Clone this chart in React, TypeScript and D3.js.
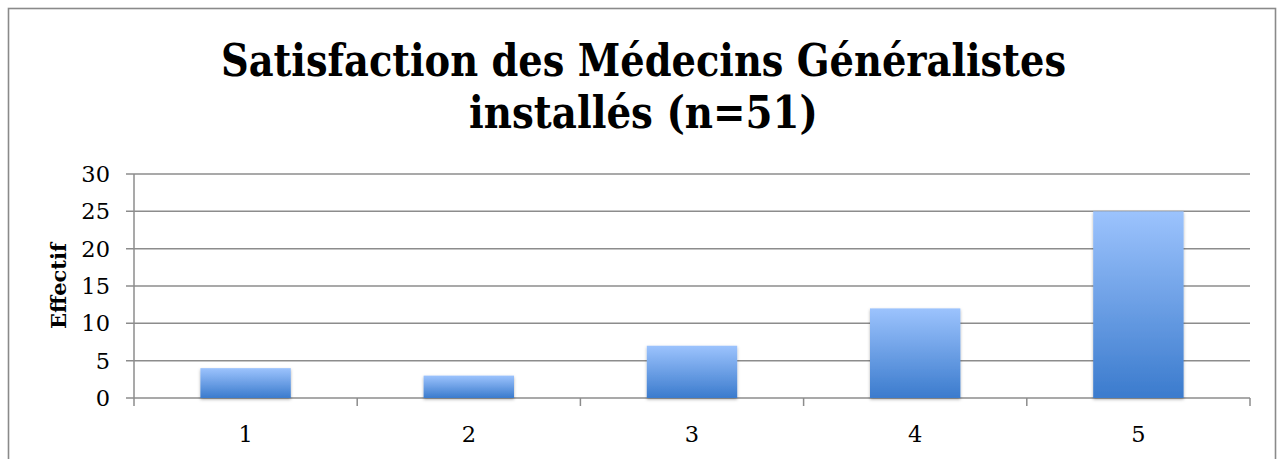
import React from "react";
import * as d3 from "d3";

const categories = ["1", "2", "3", "4", "5"];
const counts = [4, 3, 7, 12, 25];
const yTicks = [0, 5, 10, 15, 20, 25, 30];
const titleLines = ["Satisfaction des Médecins Généralistes", "installés (n=51)"];
const yLabel = "Effectif";

const W = 1282;
const H = 459;
const margin = { top: 174, right: 32, bottom: 61, left: 134 };

export default function App() {
  const x = d3
    .scaleBand()
    .domain(categories)
    .range([margin.left, W - margin.right])
    .paddingInner(0.595)
    .paddingOuter(0.2975);

  const band = d3
    .scaleBand()
    .domain(categories)
    .range([margin.left, W - margin.right]);

  const y = d3
    .scaleLinear()
    .domain([0, 30])
    .range([H - margin.bottom, margin.top]);

  const serif = "'DejaVu Serif', serif";
  const boundaries = categories.map((c) => band(c)!).concat([W - margin.right]);

  return (
    <svg
      width={W}
      height={H}
      style={{ position: "absolute", left: 0, top: 0, background: "#fff" }}
    >
      <defs>
        <linearGradient id="barGrad" x1="0" y1="0" x2="0" y2="1">
          <stop offset="0%" stopColor="#9cc3fd" />
          <stop offset="100%" stopColor="#3b7bcd" />
        </linearGradient>
        <filter id="shadow" x="-10%" y="-10%" width="120%" height="130%">
          <feDropShadow dx="0" dy="1.5" stdDeviation="1.5" floodColor="#000" floodOpacity="0.3" />
        </filter>
      </defs>

      {/* outer frame */}
      <rect x={8.5} y={8.5} width={1267} height={470} fill="none" stroke="#8a8a8a" strokeWidth={1.6} />

      {/* title */}
      <g fontFamily={serif} fontWeight="bold" fill="#000" fontSize={45}>
        <text x={221} y={76} textLength={845} lengthAdjust="spacingAndGlyphs">
          {titleLines[0]}
        </text>
        <text x={469} y={128} textLength={349} lengthAdjust="spacingAndGlyphs">
          {titleLines[1]}
        </text>
      </g>

      {/* gridlines + y ticks */}
      <g stroke="#8c8c8c" strokeWidth={1.5}>
        {yTicks.map((t) => (
          <line key={t} x1={margin.left - 8} x2={W - margin.right} y1={y(t)} y2={y(t)} />
        ))}
        <line x1={margin.left} x2={margin.left} y1={y(30)} y2={y(0) + 8} />
        {boundaries.slice(1).map((b, i) => (
          <line key={i} x1={b} x2={b} y1={y(0)} y2={y(0) + 8} />
        ))}
      </g>

      {/* y tick labels */}
      <g fontFamily={serif} fontSize={22.5} fill="#000" textAnchor="end">
        {yTicks.map((t) => (
          <text key={t} x={110} y={y(t)} dy="0.36em">
            {t}
          </text>
        ))}
      </g>

      {/* y axis label */}
      <text
        transform={`translate(66,${(y(0) + y(30)) / 2}) rotate(-90)`}
        textAnchor="middle"
        fontFamily={serif}
        fontWeight="bold"
        fontSize={20}
        fill="#000"
        textLength={86}
        lengthAdjust="spacingAndGlyphs"
      >
        {yLabel}
      </text>

      {/* bars */}
      <g filter="url(#shadow)">
        {categories.map((c, i) => (
          <rect
            key={c}
            x={x(c)}
            y={y(counts[i])}
            width={x.bandwidth()}
            height={y(0) - y(counts[i])}
            fill="url(#barGrad)"
          />
        ))}
      </g>

      {/* x tick labels */}
      <g fontFamily={serif} fontSize={22.5} fill="#000" textAnchor="middle">
        {categories.map((c) => (
          <text key={c} x={band(c)! + band.bandwidth() / 2} y={442}>
            {c}
          </text>
        ))}
      </g>
    </svg>
  );
}
